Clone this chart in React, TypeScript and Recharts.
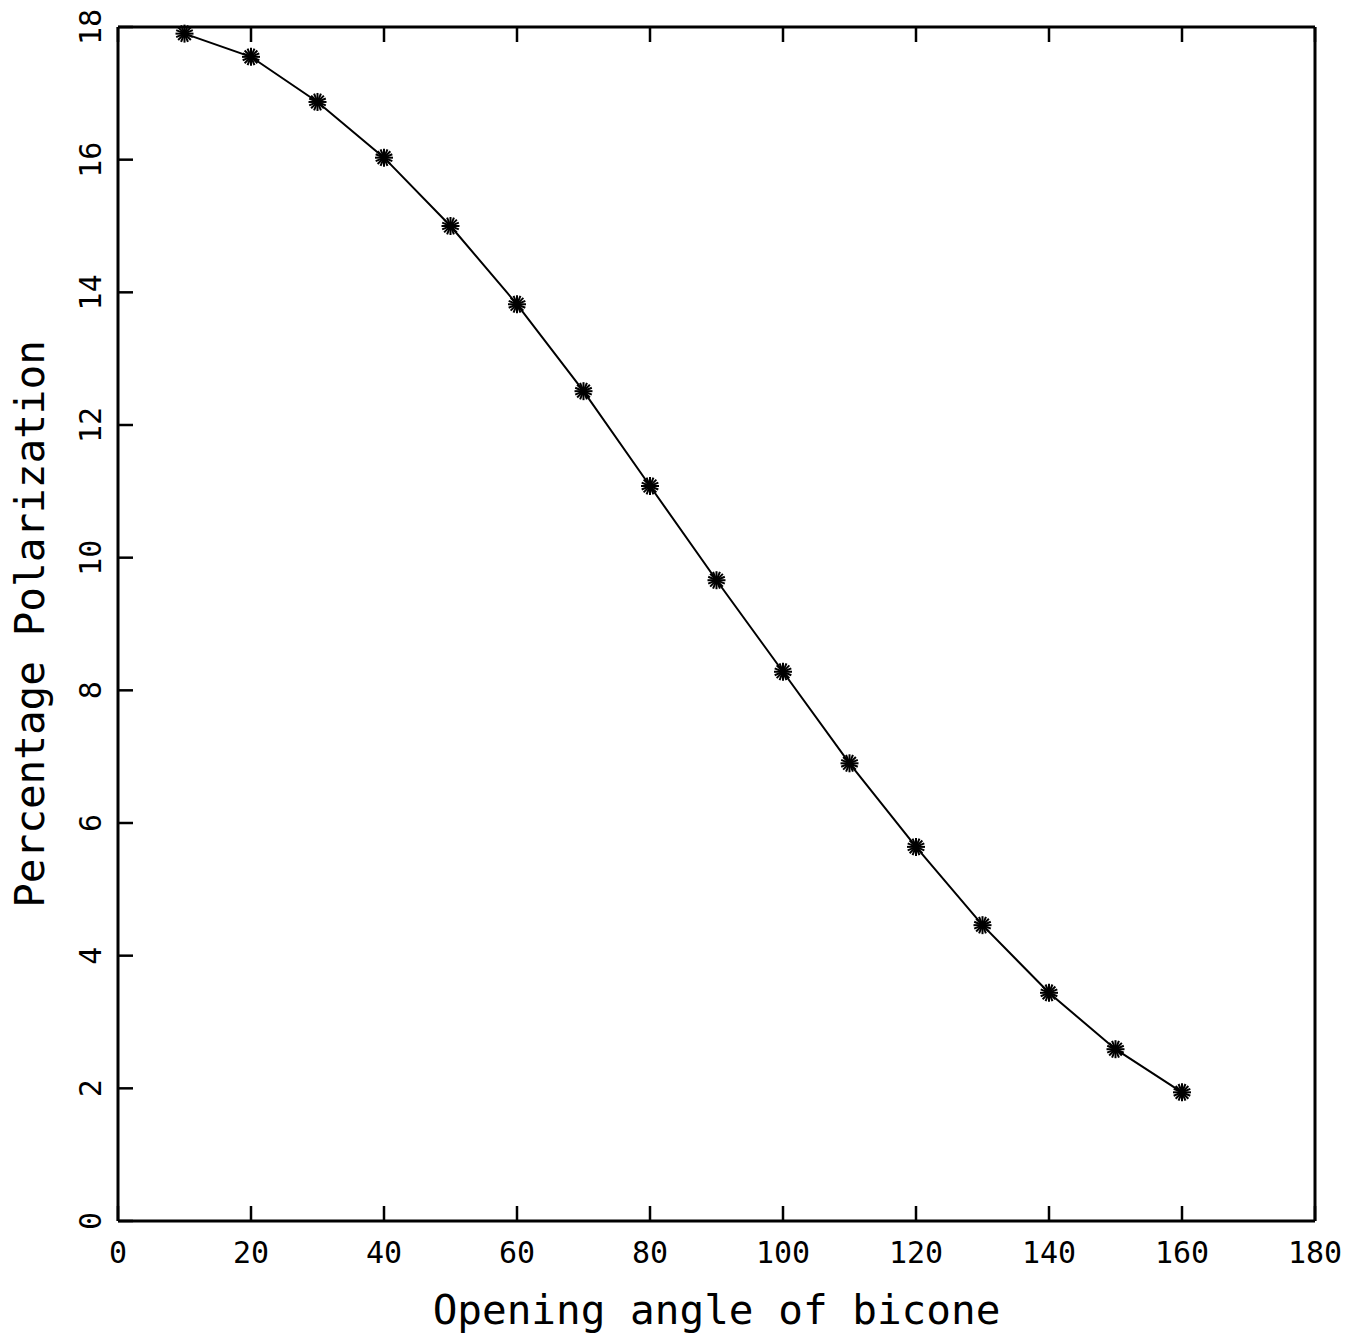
import React from "react";
import { LineChart, Line, XAxis, YAxis, Label } from "recharts";

// opening angle (deg) vs percentage polarization
const angles = [10, 20, 30, 40, 50, 60, 70, 80, 90, 100, 110, 120, 130, 140, 150, 160];
const polarization = [
  17.9, 17.55, 16.87, 16.03, 15.0, 13.82, 12.51, 11.08, 9.66, 8.28, 6.9, 5.64, 4.46, 3.44, 2.59, 1.94,
];
const xTicks = [0, 20, 40, 60, 80, 100, 120, 140, 160, 180];
const yTicks = [0, 2, 4, 6, 8, 10, 12, 14, 16, 18];

const W = 1356;
const H = 1343;
const margin = { top: 27, right: 41, bottom: 122, left: 118 };
const plotBottom = H - margin.bottom;
const plotTop = margin.top;
const plotLeft = margin.left;
const plotRight = W - margin.right;
const TICK = 15;
const FONT = "'DejaVu Sans Mono', monospace";

const data = angles.map((a, i) => ({ angle: a, pol: polarization[i] }));

// asterisk marker like the plotter's "*"
function Star(props: any) {
  const { cx, cy } = props;
  if (cx == null || cy == null) return null;
  const r = 9;
  const spokes = [0, 22.5, 45, 67.5, 90, 112.5, 135, 157.5];
  return (
    <g>
      {spokes.map((deg) => {
        const t = (deg * Math.PI) / 180;
        return (
          <line
            key={deg}
            x1={cx - r * Math.cos(t)}
            y1={cy - r * Math.sin(t)}
            x2={cx + r * Math.cos(t)}
            y2={cy + r * Math.sin(t)}
            stroke="#000"
            strokeWidth={2}
          />
        );
      })}
    </g>
  );
}

// tick marks point into the frame on all four sides
function BottomTick(props: any) {
  const { x, payload } = props;
  return (
    <g>
      <line x1={x} x2={x} y1={plotBottom} y2={plotBottom - TICK} stroke="#000" strokeWidth={2.5} />
      <text
        x={x}
        y={plotBottom + 31}
        textAnchor="middle"
        dominantBaseline="central"
        fontSize={30}
        fontFamily={FONT}
        fill="#000"
      >
        {payload.value}
      </text>
    </g>
  );
}

function TopTick(props: any) {
  const { x } = props;
  return <line x1={x} x2={x} y1={plotTop} y2={plotTop + TICK} stroke="#000" strokeWidth={2.5} />;
}

function LeftTick(props: any) {
  const { y, payload } = props;
  return (
    <g>
      <line x1={plotLeft} x2={plotLeft + TICK} y1={y} y2={y} stroke="#000" strokeWidth={2.5} />
      <text
        transform={`translate(${plotLeft - 28}, ${y}) rotate(-90)`}
        textAnchor="middle"
        dominantBaseline="central"
        fontSize={30}
        fontFamily={FONT}
        fill="#000"
      >
        {payload.value}
      </text>
    </g>
  );
}

function RightTick(props: any) {
  const { y } = props;
  return <line x1={plotRight} x2={plotRight - TICK} y1={y} y2={y} stroke="#000" strokeWidth={2.5} />;
}

const axisLine = { stroke: "#000", strokeWidth: 3 };

export default function App() {
  return (
    <div style={{ position: "absolute", left: 0, top: 0, background: "#fff" }}>
      <LineChart width={W} height={H} data={data} margin={margin}>
        <XAxis
          xAxisId="b"
          dataKey="angle"
          type="number"
          domain={[0, 180]}
          ticks={xTicks}
          orientation="bottom"
          height={1}
          mirror
          axisLine={axisLine}
          tickLine={false}
          tick={<BottomTick />}
        >
          <Label
            content={(p: any) => {
              const vb = p.viewBox || {};
              return (
                <text
                  x={vb.x + vb.width / 2}
                  y={plotBottom + 89}
                  textAnchor="middle"
                  dominantBaseline="central"
                  fontSize={41}
                  fontFamily={FONT}
                  fill="#000"
                >
                  Opening angle of bicone
                </text>
              );
            }}
          />
        </XAxis>
        <XAxis
          xAxisId="t"
          dataKey="angle"
          type="number"
          domain={[0, 180]}
          ticks={xTicks}
          orientation="top"
          height={1}
          mirror
          axisLine={axisLine}
          tickLine={false}
          tick={<TopTick />}
        />
        <YAxis
          yAxisId="l"
          type="number"
          domain={[0, 18]}
          ticks={yTicks}
          orientation="left"
          width={1}
          mirror
          axisLine={axisLine}
          tickLine={false}
          tick={<LeftTick />}
        >
          <Label
            content={(p: any) => {
              const vb = p.viewBox || {};
              const cy = vb.y + vb.height / 2;
              return (
                <text
                  transform={`translate(${plotLeft - 88}, ${cy}) rotate(-90)`}
                  textAnchor="middle"
                  dominantBaseline="central"
                  fontSize={41}
                  fontFamily={FONT}
                  fill="#000"
                >
                  Percentage Polarization
                </text>
              );
            }}
          />
        </YAxis>
        <YAxis
          yAxisId="r"
          type="number"
          domain={[0, 18]}
          ticks={yTicks}
          orientation="right"
          width={1}
          mirror
          axisLine={axisLine}
          tickLine={false}
          tick={<RightTick />}
        />
        <Line
          xAxisId="b"
          yAxisId="l"
          type="linear"
          dataKey="pol"
          stroke="#000"
          strokeWidth={2}
          dot={<Star />}
          activeDot={false}
          isAnimationActive={false}
        />
      </LineChart>
    </div>
  );
}
